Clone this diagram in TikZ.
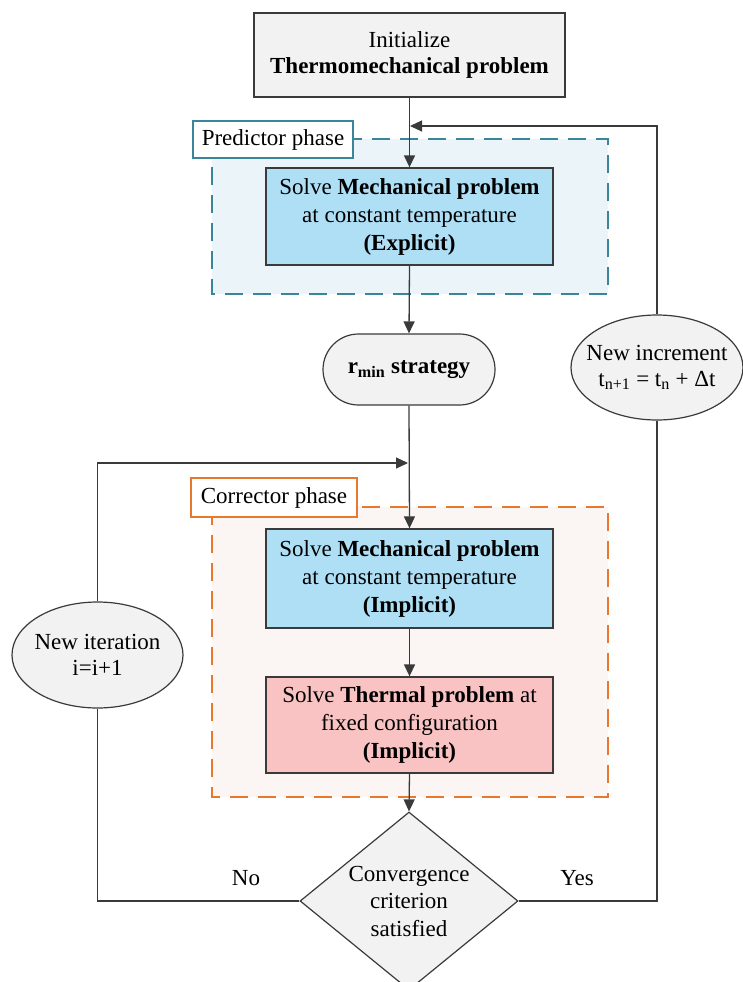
\documentclass[tikz,border=0pt]{standalone}
\usepackage{fontspec}
\setmainfont{Liberation Serif}
\usetikzlibrary{arrows.meta,shapes.geometric,shapes.misc}
\definecolor{lineC}{HTML}{3A3A3A}
\definecolor{grayFill}{HTML}{F2F2F2}
\definecolor{blueFill}{HTML}{AEDFF5}
\definecolor{redFill}{HTML}{F8C3C2}
\definecolor{predLine}{HTML}{3A8599}
\definecolor{predFill}{HTML}{EBF5F9}
\definecolor{corrLine}{HTML}{E8782C}
\definecolor{corrFill}{HTML}{FBF6F3}
\tikzset{
  conn/.style={draw=lineC, line width=1.3pt},
  arr/.style={conn, -{Triangle[length=12pt,width=11pt]}},
  procbox/.style={draw=lineC, line width=1.3pt, align=center, inner sep=0pt},
  phasebox/.style={line width=1.4pt, dash pattern=on 18pt off 10pt},
  phaselabel/.style={draw, fill=white, line width=1.1pt, inner sep=0pt, align=center},
  txt/.style={align=center, inner sep=0pt},
  roundshape/.style={draw=lineC, line width=1.2pt, fill=grayFill, inner sep=0pt}
}
\begin{document}
\begin{tikzpicture}[x=1pt,y=-1pt, font=\fontsize{23}{28}\selectfont]
\useasboundingbox (0,0) rectangle (742,982);
% phase containers
\draw[phasebox, draw=predLine, fill=predFill] (212,139) rectangle (608,294);
\node[phaselabel, draw=predLine, minimum width=160pt, minimum height=37pt] (plabel) at (273,139.5) {Predictor phase};
\draw[phasebox, draw=corrLine, fill=corrFill] (212,507) rectangle (608,797);
\node[phaselabel, draw=corrLine, minimum width=166pt, minimum height=39pt] (clabel) at (274,497.5) {Corrector phase};
% process nodes
\node[procbox, fill=grayFill, minimum width=311pt, minimum height=84pt, font=\fontsize{23}{26}\selectfont] (init) at (409.5,55) {Initialize\\\textbf{Thermomechanical problem}};
\node[procbox, fill=blueFill, minimum width=287pt, minimum height=97pt] (expl) at (409.5,216.5) {Solve \textbf{Mechanical problem}\\at constant temperature\\\textbf{(Explicit)}};
\node[roundshape, rounded rectangle, minimum width=172pt, minimum height=71pt] (rmin) at (409,369.5) {\textbf{r\textsubscript{min} strategy}};
\node[roundshape, ellipse, minimum width=172pt, minimum height=105pt] (incr) at (657,367.5) {};
\node[txt, font=\fontsize{23}{26}\selectfont] (incrtext) at (incr.center) {New increment\\t\textsubscript{n+1} = t\textsubscript{n} + Δt};
\node[procbox, fill=blueFill, minimum width=287pt, minimum height=99pt] (mechI) at (409.5,578.5) {Solve \textbf{Mechanical problem}\\at constant temperature\\\textbf{(Implicit)}};
\node[procbox, fill=redFill, minimum width=287pt, minimum height=96pt] (therm) at (409.5,725) {Solve \textbf{Thermal problem} at\\fixed configuration\\\textbf{(Implicit)}};
\node[roundshape, ellipse, minimum width=171pt, minimum height=106pt] (iter) at (97.5,655) {};
\node[txt, font=\fontsize{23}{26}\selectfont] (itertext) at (iter.center) {New iteration\\i=i+1};
\node[roundshape, diamond, minimum width=218pt, minimum height=178pt] (conv) at (409,901) {};
\node[txt, font=\fontsize{23}{27.5}\selectfont] (convtext) at (conv.center) {Convergence\\criterion\\satisfied};
% labels
\node[txt] (nolab) at (246,878) {No};
\node[txt] (yeslab) at (577,878) {Yes};
% junctions
\coordinate (j1) at (410,126);
\coordinate (j2) at (408,463);
% connectors
\draw[arr] (init.south) -- (expl.north);
\draw[arr] (incr.north) |- (j1);
\draw[arr] (expl.south) -- (rmin.north);
\draw[arr] (rmin.south) -- (mechI.north);
\draw[arr] (iter.north) |- (j2);
\draw[arr] (mechI.south) -- (therm.north);
\draw[arr] (therm.south) -- (conv.north);
\draw[conn] (conv.west) -| (iter.south);
\draw[conn] (conv.east) -| (incr.south);
\end{tikzpicture}
\end{document}
